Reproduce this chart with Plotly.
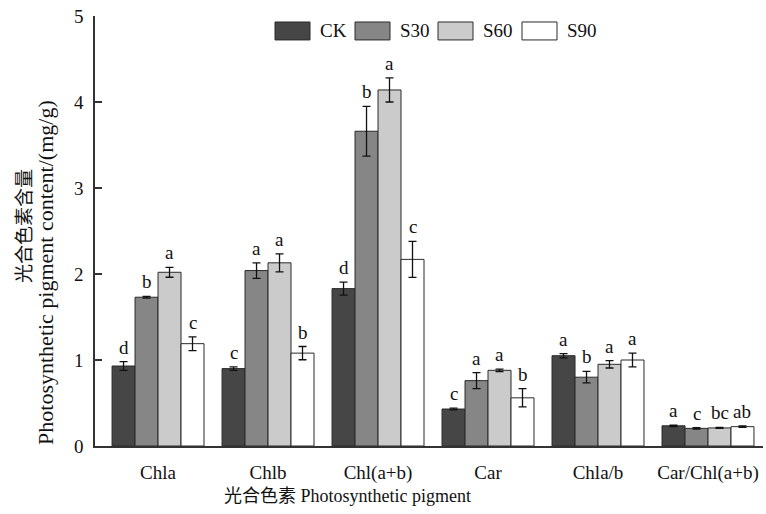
import plotly.graph_objects as go

categories = ["Chla", "Chlb", "Chl(a+b)", "Car", "Chla/b", "Car/Chl(a+b)"]
series_names = ["CK", "S30", "S60", "S90"]

ck_values = [0.93, 0.90, 1.83, 0.43, 1.05, 0.235]
s30_values = [1.73, 2.04, 3.66, 0.76, 0.80, 0.205]
s60_values = [2.02, 2.13, 4.14, 0.88, 0.95, 0.21]
s90_values = [1.19, 1.08, 2.17, 0.56, 1.00, 0.225]

ck_err = [0.05, 0.02, 0.075, 0.01, 0.025, 0.008]
s30_err = [0.01, 0.09, 0.29, 0.093, 0.067, 0.008]
s60_err = [0.058, 0.105, 0.14, 0.015, 0.043, 0.006]
s90_err = [0.08, 0.077, 0.21, 0.106, 0.08, 0.008]

ck_letters = ["d", "c", "d", "c", "a", "a"]
s30_letters = ["b", "a", "b", "a", "b", "c"]
s60_letters = ["a", "a", "a", "a", "a", "bc"]
s90_letters = ["c", "b", "c", "b", "a", "ab"]

y_tick_values = [0, 1, 2, 3, 4, 5]

values = [ck_values, s30_values, s60_values, s90_values]
errors = [ck_err, s30_err, s60_err, s90_err]
letters = [ck_letters, s30_letters, s60_letters, s90_letters]
colors = ["#464646", "#868686", "#cbcbcb", "#ffffff"]

SERIF = "'Liberation Serif', 'Times New Roman', 'Noto Sans CJK SC', serif"
W, H = 766, 514
L, R, T, B = 95, 3, 15.5, 67.5
plot_w = W - L - R
plot_h = H - T - B

bargap = 0.164
bar_w = (1 - bargap) / len(series_names)
idx = list(range(len(categories)))

fig = go.Figure()
for j, name in enumerate(series_names):
    fig.add_trace(go.Bar(
        x=idx, y=values[j], name=name,
        marker=dict(color=colors[j], line=dict(color="#2a2a2a", width=1)),
        error_y=dict(type="data", array=errors[j], visible=True,
                     color="#111111", thickness=1.3, width=4),
        showlegend=False,
    ))

annotations = []
for j in range(len(series_names)):
    for i in idx:
        annotations.append(dict(
            x=i + (j - 1.5) * bar_w, y=values[j][i] + errors[j][i],
            xref="x", yref="y", text=letters[j][i], showarrow=False,
            yanchor="bottom", xanchor="center", yshift=2,
            font=dict(family=SERIF, size=19, color="#111111"),
        ))

# custom legend (large swatches)
def px_to_paper_x(px):
    return (px - L) / plot_w

def px_to_paper_y(py):
    return (H - B - py) / plot_h

shapes = []
legend_x0 = [275, 355, 438, 522]
sw_w, sw_top, sw_bot = 35, 21.5, 39.5
for j, name in enumerate(series_names):
    x0 = legend_x0[j]
    shapes.append(dict(
        type="rect", xref="paper", yref="paper",
        x0=px_to_paper_x(x0), x1=px_to_paper_x(x0 + sw_w),
        y0=px_to_paper_y(sw_bot), y1=px_to_paper_y(sw_top),
        fillcolor=colors[j], line=dict(color="#2a2a2a", width=1),
    ))
    annotations.append(dict(
        x=px_to_paper_x(x0 + sw_w + 8), y=px_to_paper_y((sw_top + sw_bot) / 2),
        xref="paper", yref="paper", text=name, showarrow=False,
        xanchor="left", yanchor="middle",
        font=dict(family=SERIF, size=19, color="#111111"),
    ))

# axis titles
annotations.append(dict(
    x=px_to_paper_x(24), y=px_to_paper_y(226), xref="paper", yref="paper",
    text="光合色素含量", textangle=-90, showarrow=False,
    xanchor="center", yanchor="middle",
    font=dict(family=SERIF, size=19, color="#111111"),
))
annotations.append(dict(
    x=px_to_paper_x(46), y=px_to_paper_y(273), xref="paper", yref="paper",
    text="Photosynthetic pigment content/(mg/g)", textangle=-90, showarrow=False,
    xanchor="center", yanchor="middle",
    font=dict(family=SERIF, size=22, color="#111111"),
))
annotations.append(dict(
    x=px_to_paper_x(347), y=px_to_paper_y(497), xref="paper", yref="paper",
    text="光合色素 Photosynthetic pigment", showarrow=False,
    xanchor="center", yanchor="middle",
    font=dict(family=SERIF, size=18, color="#111111"),
))

fig.update_layout(
    width=W, height=H, autosize=False,
    margin=dict(l=L, r=R, t=T, b=B, pad=0),
    paper_bgcolor="white", plot_bgcolor="white",
    barmode="group", bargap=bargap, bargroupgap=0,
    font=dict(family=SERIF, size=19, color="#111111"),
    annotations=annotations, shapes=shapes,
    showlegend=False,
)
fig.update_xaxes(
    range=[-0.573, 5.5], tickmode="array", tickvals=idx, ticktext=categories,
    showline=True, linecolor="#333333", linewidth=1.5, ticks="",
    showgrid=False, zeroline=False, ticklabelstandoff=8,
    tickfont=dict(family=SERIF, size=19, color="#111111"),
)
fig.update_yaxes(
    range=[0, 5], tickmode="array", tickvals=y_tick_values,
    showline=True, linecolor="#333333", linewidth=1.5,
    ticks="inside", ticklen=7, tickwidth=1.5, tickcolor="#333333",
    showgrid=False, zeroline=False, ticklabelstandoff=6,
    tickfont=dict(family=SERIF, size=19, color="#111111"),
)

fig.write_html(
    "out.html",
    config={"displayModeBar": False},
    post_script="document.body.style.margin='0';document.body.style.padding='0';",
)
